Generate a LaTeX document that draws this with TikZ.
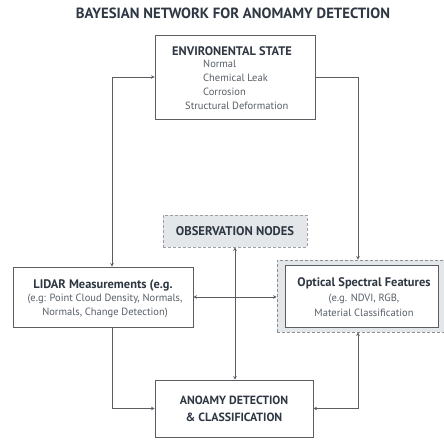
\documentclass[tikz,border=0pt]{standalone}
\usepackage{fontspec}
\setmainfont{PT Sans}
\usetikzlibrary{arrows.meta,calc}
\definecolor{ln}{HTML}{5A5E63}
\definecolor{tx}{HTML}{2E3742}
\definecolor{obsfill}{HTML}{E4E7EA}
\tikzset{
  box/.style={draw=ln, line width=0.9pt, fill=white, inner sep=0pt, text=tx, align=center},
  conn/.style={draw=ln, line width=0.9pt},
  tip/.style={-{Stealth[length=3.5pt,width=3.5pt]}},
  tips/.style={{Stealth[length=3.5pt,width=3.5pt]}-{Stealth[length=3.5pt,width=3.5pt]}},
  hd/.style={font=\bfseries\fontsize{12.4}{14}\selectfont, text=tx},
  bd/.style={font=\fontsize{10.5}{12}\selectfont, text=tx!80},
}
\begin{document}
\begin{tikzpicture}[x=1pt,y=-1pt]
\useasboundingbox (0,0) rectangle (444,439);
\fill[white] (0,0) rectangle (444,439);
% title
\node[font=\bfseries\fontsize{14.8}{16}\selectfont, text=tx] (title) at (233,13) {BAYESIAN NETWORK FOR ANOMAMY DETECTION};
% environmental state
\node[box, minimum width=160pt, minimum height=84pt] (env) at (235,77) {};
\node[hd] (envh) at (232,51) {ENVIRONENTAL STATE};
\node[bd, anchor=west, inner sep=0pt] (n1) at (203,64) {Normal};
\node[bd, anchor=west, inner sep=0pt] (n2) at (203,78) {Chemical Leak};
\node[bd, anchor=west, inner sep=0pt] (n3) at (203,92) {Corrosion};
\node[bd, anchor=west, inner sep=0pt] (n4) at (185,106) {Structural Deformation};
% observation nodes
\node[box, fill=obsfill, draw=ln!60, densely dashed, minimum width=144pt, minimum height=32pt, hd, font=\bfseries\fontsize{12.6}{14}\selectfont] (obs) at (235,231) {OBSERVATION NODES};
% lidar
\node[box, minimum width=180pt, minimum height=60pt] (lidar) at (103,297) {};
\node[hd] (l1) at (103,285) {LIDAR Measurements (e.g.};
\node[bd] (l2) at (105,299) {(e.g: Point Cloud Density, Normals,};
\node[bd] (l3) at (105,313) {Normals, Change Detection)};
% optical
\node[box, fill=obsfill, draw=ln!70, densely dashed, minimum width=167pt, minimum height=72pt] (optout) at (360.5,296) {};
\node[box, minimum width=153pt, minimum height=62pt] (opt) at (361.5,296) {};
\node[hd] (o1) at (364,283) {Optical Spectral Features};
\node[bd] (o2) at (364,299) {(e.g. NDVI, RGB,};
\node[bd] (o3) at (364,313) {Material Classification};
% anomaly
\node[box, minimum width=158pt, minimum height=57pt, hd, font=\bfseries\fontsize{11.9}{17}\selectfont] (anom) at (234,408.5) {ANOAMY DETECTION\\\& CLASSIFICATION};
% coordinates for connector verticals
\coordinate (lx) at (112,0);
\coordinate (rx) at (358,0);
% connectors
\draw[conn, tips] (env.west) -| (lx |- lidar.north);
\draw[conn, tip] (env.east) -| (rx |- optout.north);
\draw[conn, tip] (lx |- lidar.south) |- (anom.west);
\draw[conn, tips] (anom.east) -| (rx |- optout.south);
\draw[conn, tips] (lidar.east) -- (optout.west |- lidar.east);
\draw[conn, tips] (obs.south) -- (obs.south |- anom.north);
\end{tikzpicture}
\end{document}
